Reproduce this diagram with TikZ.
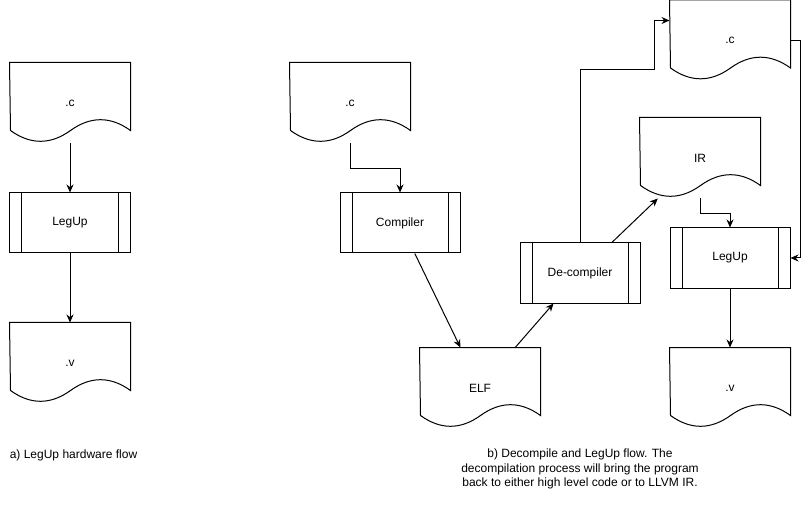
\documentclass[tikz,border=0pt]{standalone}
\usepackage{fontspec}
\setmainfont{Liberation Sans}
\usetikzlibrary{arrows.meta}
\tikzset{
  font={\fontsize{12bp}{14.5bp}\selectfont},
  docbox/.style={minimum width=120bp, minimum height=80bp, inner sep=0pt},
  procbox/.style={draw, minimum width=120bp, minimum height=60bp, inner sep=0pt,
    path picture={
      \draw ([xshift=12bp]path picture bounding box.north west) -- ([xshift=12bp]path picture bounding box.south west);
      \draw ([xshift=-12bp]path picture bounding box.north east) -- ([xshift=-12bp]path picture bounding box.south east);}},
  flow/.style={-{Stealth[length=8bp,width=7bp]}},
}
% outline of a document with a wavy bottom
\newcommand{\docshape}[1]{%
  \draw (#1.north west) -- (#1.north east) -- ++(0,68)
    .. controls +(-20,-14.4) and +(20,-14.4) .. ++(-60,0)
    .. controls +(-20,14.4) and +(20,14.4) .. ++(-60,0) -- cycle;}

\begin{document}
\begin{tikzpicture}[x=1bp, y=-1bp, line width=1bp]
\useasboundingbox (0,0) rectangle (810,510);

% a) LegUp hardware flow
\node (ca) [docbox] at (70,103) {.c};
\node (lega) [procbox] at (70,223) {LegUp};
\node (va) [docbox] at (70,363) {.v};
\node (capa) [anchor=west] at (6,455) {a) LegUp hardware flow};

% b) Decompile and LegUp flow
\node (cb) [docbox] at (350,103) {.c};
\node (comp) [procbox] at (400,223) {Compiler};
\node (elf) [docbox] at (480,388) {ELF};
\node (decomp) [procbox] at (580,273) {De-compiler};
\node (cc) [docbox] at (730,40.5) {.c};
\node (ir) [docbox] at (700,158) {IR};
\node (legb) [procbox] at (730,258) {LegUp};
\node (vb) [docbox] at (730,388) {.v};
\node (capb) [align=center] at (580,469) {b) Decompile and LegUp flow. The\\decompilation process will bring the program\\back to either high level code or to LLVM IR.};

\foreach \d in {ca,va,cb,elf,cc,ir,vb} {\docshape{\d}}

\draw[flow] (ca.south) -- (lega.north);
\draw[flow] (lega) -- (va);
\draw[flow] (cb.south) -- ++(0,25) -| (comp.north);
\draw[flow] (comp) -- (elf);
\draw[flow] (elf) -- (decomp);
\draw[flow] (decomp) -- (ir);
\draw[flow] (decomp.north) -- ++(0,-173) -| ([xshift=-15bp,yshift=20bp]cc.west) -- ([yshift=20bp]cc.west);
\draw[flow] (ir.south) -- ++(0,15) -| (legb.north);
\draw[flow] (cc.east) -- ++(10,0) |- (legb.east);
\draw[flow] (legb) -- (vb);
\end{tikzpicture}
\end{document}
